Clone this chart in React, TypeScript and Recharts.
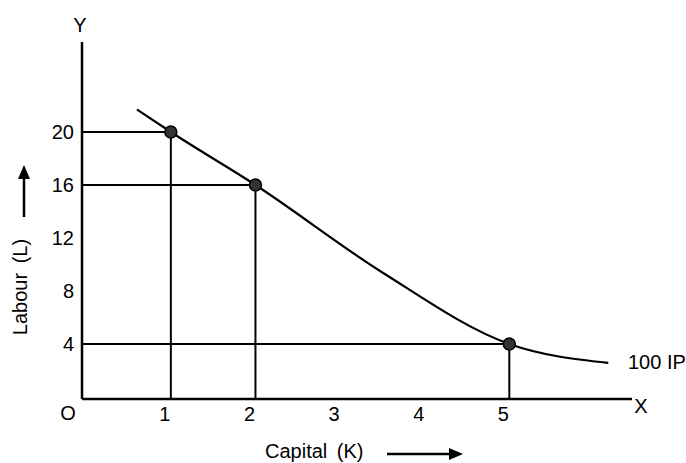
import React from 'react';
import {
    ComposedChart,
    Line,
    Scatter,
    XAxis,
    YAxis,
    ReferenceLine
} from 'recharts';

// isoquant curve (capital K, labour L)
const curveCapital = [0.6, 1, 2, 3.5, 5, 6.17];
const curveLabour = [21.7, 20, 16, 9.4, 4, 2.57];

// marked combinations on the 100 IP curve
const pointCapital = [1, 2, 5];
const pointLabour = [20, 16, 4];

const xTicks = [1, 2, 3, 4, 5];
const yTicks = [4, 8, 12, 16, 20];

const xDomain: [number, number] = [-0.05, 6.45];
const yDomain: [number, number] = [-0.15, 26.79];

const curveData = curveCapital.map((k, i) => ({ k, l: curveLabour[i] }));
const pointData = pointCapital.map((k, i) => ({ k, l: pointLabour[i] }));

const FONT = '"Liberation Sans", Arial, sans-serif';
const INK = '#000';

const Dot = (props: any) => (
    <circle cx={props.cx} cy={props.cy} r={6} fill="#333" stroke="#000" strokeWidth={1.5} />
);

const App: React.FC = () => {
    return (
        <div style={{ position: 'absolute', left: 0, top: 0, width: 686, height: 463, background: '#fff', fontFamily: FONT }}>
            <ComposedChart
                width={686}
                height={463}
                margin={{ top: 42, right: 54, left: 22, bottom: 34 }}
                style={{ fontFamily: FONT }}
            >
                <XAxis
                    type="number"
                    dataKey="k"
                    domain={xDomain}
                    ticks={xTicks}
                    height={30}
                    tickLine={false}
                    axisLine={{ stroke: INK, strokeWidth: 2.5 }}
                    tick={{ fill: INK, fontSize: 20, dx: -6 }}
                />
                <YAxis
                    type="number"
                    dataKey="l"
                    domain={yDomain}
                    ticks={yTicks}
                    width={60}
                    tickLine={false}
                    axisLine={{ stroke: INK, strokeWidth: 2.5 }}
                    tick={{ fill: INK, fontSize: 20 }}
                />
                {pointData.map((p) => (
                    <ReferenceLine
                        key={'h' + p.k}
                        segment={[{ x: xDomain[0], y: p.l }, { x: p.k, y: p.l }]}
                        stroke={INK}
                        strokeWidth={2}
                    />
                ))}
                {pointData.map((p) => (
                    <ReferenceLine
                        key={'v' + p.k}
                        segment={[{ x: p.k, y: p.l }, { x: p.k, y: yDomain[0] }]}
                        stroke={INK}
                        strokeWidth={2}
                    />
                ))}
                <Line
                    data={curveData}
                    dataKey="l"
                    type="monotone"
                    stroke={INK}
                    strokeWidth={2.2}
                    dot={false}
                    activeDot={false}
                    isAnimationActive={false}
                />
                <Scatter
                    data={pointData}
                    dataKey="l"
                    shape={Dot}
                    isAnimationActive={false}
                />
            </ComposedChart>
            <svg
                width={686}
                height={463}
                style={{ position: 'absolute', left: 0, top: 0, pointerEvents: 'none' }}
                fontFamily={FONT}
                fontSize={20}
                fill={INK}
            >
                <text x={80} y={32} textAnchor="middle">Y</text>
                <text x={641} y={413} textAnchor="middle">X</text>
                <text x={68} y={420} textAnchor="middle">O</text>
                <text x={628} y={369}>100 IP</text>
                <text x={20} y={287} textAnchor="middle" dominantBaseline="central" transform="rotate(-90 20 287)" style={{ wordSpacing: 4 }}>
                    Labour (L)
                </text>
                <line x1={24} y1={217} x2={24} y2={178} stroke={INK} strokeWidth={2.5} />
                <polygon points="24,165 18,179 30,179" fill={INK} />
                <text x={265} y={458} style={{ wordSpacing: 4 }}>Capital (K)</text>
                <line x1={387} y1={454} x2={450} y2={454} stroke={INK} strokeWidth={2.5} />
                <polygon points="463,454 449,448 449,460" fill={INK} />
            </svg>
        </div>
    );
};

export default App;
